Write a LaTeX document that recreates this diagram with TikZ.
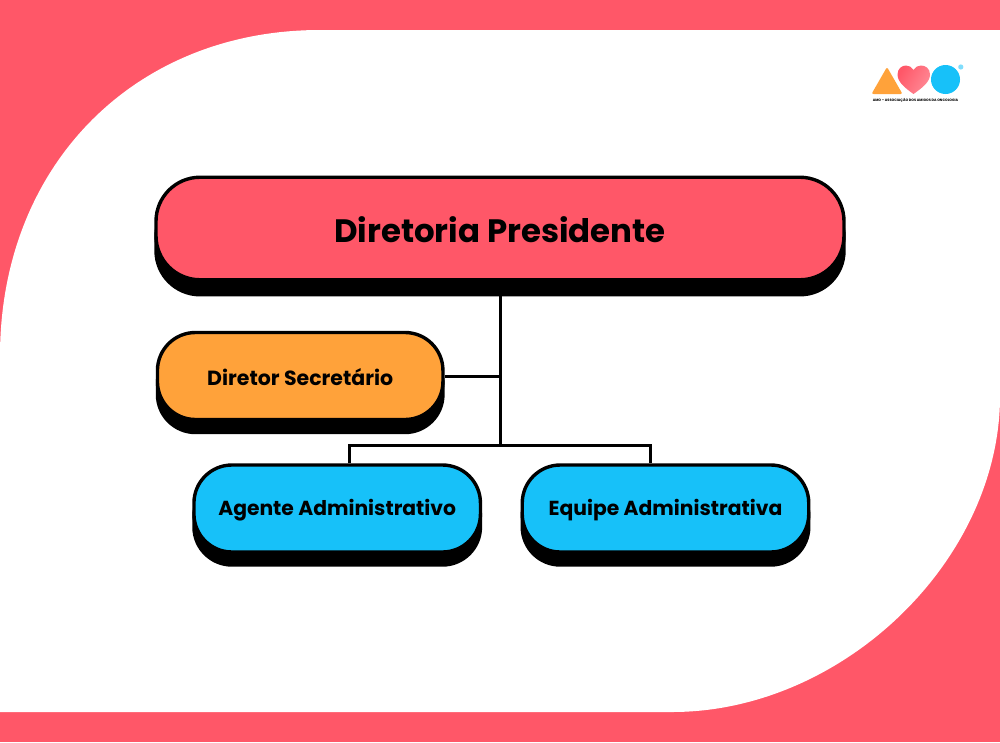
\documentclass[tikz,border=0pt]{standalone}
\usepackage{fontspec}
\setmainfont{Poppins}
\usetikzlibrary{shadows,shapes.geometric}
\definecolor{brandred}{HTML}{FF5768}
\definecolor{brandorange}{HTML}{FFA23A}
\definecolor{brandblue}{HTML}{17C1F9}
\newcommand{\lowered}[1]{\raisebox{-1.4pt}[\height][\depth]{#1}}
\tikzset{
  orgbox/.style={draw=black,line width=3.4pt,text=black,font=\bfseries,align=center,inner sep=0pt},
  topbox/.style={orgbox,fill=brandred,minimum width=688pt,minimum height=102.5pt,rounded corners=44pt,font=\bfseries\fontsize{32.4}{36}\selectfont,
    general shadow={fill=black,draw=black,line width=3.4pt,shadow xshift=0pt,shadow yshift=-15pt}},
  midbox/.style={orgbox,fill=brandorange,minimum width=285.5pt,minimum height=87pt,rounded corners=38pt,font=\bfseries\fontsize{20.5}{24}\selectfont,
    general shadow={fill=black,draw=black,line width=3.4pt,shadow xshift=0pt,shadow yshift=-13pt}},
  lowbox/.style={orgbox,fill=brandblue,minimum width=286.5pt,minimum height=87pt,rounded corners=38pt,font=\bfseries\fontsize{20.3}{24}\selectfont,
    general shadow={fill=black,draw=black,line width=3.4pt,shadow xshift=0pt,shadow yshift=-13pt}},
  link/.style={draw=black,line width=3pt,line cap=butt,line join=miter},
}
\begin{document}
\begin{tikzpicture}[x=1pt,y=-1pt]
\useasboundingbox (0,0) rectangle (1000,742);
\fill[brandred] (0,0) rectangle (1000,742);
\fill[white] (0,712) -- (0,356) .. controls (0,166) and (134,30) .. (320,30) -- (1000,30) -- (1000,396) .. controls (1000,560) and (843,712) .. (672,712) -- cycle;
% logo
\fill[brandorange,rounded corners=2pt] (887,67) -- (902.5,94) -- (871.5,94) -- cycle;
\shade[left color=brandred,right color=brandred!70!white,shading angle=60]
  (913.5,94) .. controls (905,88) and (897.5,82) .. (897.5,74.5) .. controls (897.5,68.5) and (902,65.5) .. (906,65.5) .. controls (909,65.5) and (912,67) .. (913.5,70) .. controls (915,67) and (918,65.5) .. (921,65.5) .. controls (925.5,65.5) and (930,68.5) .. (930,74.5) .. controls (930,82) and (922,88) .. (913.5,94) -- cycle;
\fill[brandblue] (945.5,79.5) circle (14.5);
\fill[brandblue!55!white] (960.8,67) circle (2.6);
\node[font=\bfseries\fontsize{3.4}{4}\selectfont,text=black,inner sep=0pt] (logotext) at (915.5,100.8) {AMO – ASSOCIAÇÃO DOS AMIGOS DA ONCOLOGIA};
\coordinate (join) at (500,445.5);
\node[topbox] (dir) at (500,228.5) {\lowered{Diretoria Presidente}};
\node[midbox] (sec) at (300.2,376) {\lowered{Diretor Secretário}};
\node[lowbox] (age) at (337.2,508.5) {\lowered{Agente Administrativo}};
\node[lowbox] (equ) at (665.5,508.5) {\lowered{Equipe Administrativa}};
\draw[link] (dir.south) ++(0,14) -- (join);
\draw[link] (sec.east) -- (sec.east -| join);
\draw[link] (age.north -| 349.7,0) -- (349.7,445.5) -- (650.5,445.5) -- (equ.north -| 650.5,0);
\end{tikzpicture}
\end{document}
